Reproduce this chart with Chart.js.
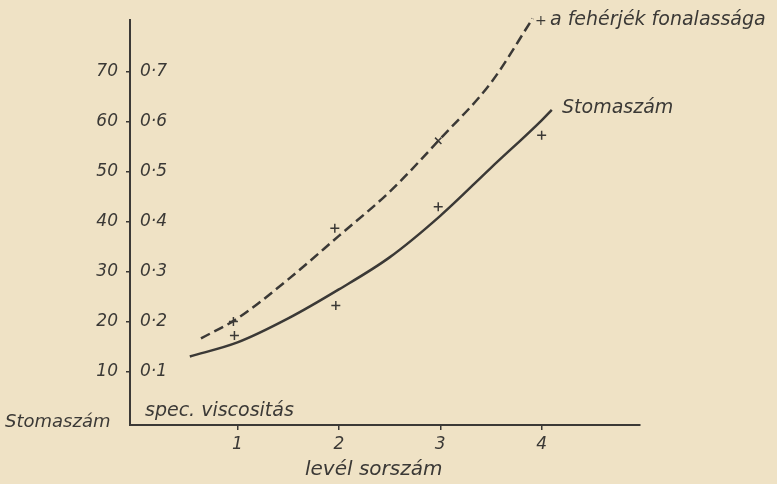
<!DOCTYPE html>
<html>
<head>
<meta charset="utf-8">
<script src="https://cdn.jsdelivr.net/npm/chart.js@4/dist/chart.umd.min.js"></script>
<style>
  html, body { margin: 0; padding: 0; background: #efe2c5; }
  #wrap { width: 777px; height: 484px; position: relative; }
</style>
</head>
<body>
<div id="wrap"><canvas id="chart"></canvas></div>
<script>
// Données
const xTicks = [1, 2, 3, 4];
const yTicks = [10, 20, 30, 40, 50, 60, 70];
const yLabels = ['10', '20', '30', '40', '50', '60', '70'];
const y2Labels = ['0·1', '0·2', '0·3', '0·4', '0·5', '0·6', '0·7'];

// courbe pleine : Stomaszám
const stomaX = [0.53, 1, 1.5, 2, 2.5, 3, 3.5, 4, 4.1];
const stomaY = [13.1, 15.9, 20.7, 26.5, 32.9, 41.2, 50.8, 60.3, 62.4];
// courbe en tirets : spec. viscositás
const viscX = [0.64, 1, 1.5, 2, 2.5, 3, 3.5, 3.91];
const viscY = [0.167, 0.207, 0.285, 0.372, 0.46, 0.566, 0.678, 0.806];
// points mesurés (+)
const stomaPtsX = [0.97, 1.97, 2.98, 4.0];
const stomaPtsY = [17.3, 23.3, 43.0, 57.3];
const viscPtsX = [0.96, 1.96, 2.98];
const viscPtsY = [0.201, 0.387, 0.562];

const ink = '#3b3936';
const font = '"DejaVu Sans", sans-serif';

const zip = (xs, ys) => xs.map((x, i) => ({ x: x, y: ys[i] }));

// Textes libres posés sur le papier
const labelsPlugin = {
  id: 'paperLabels',
  afterDraw(chart) {
    const ctx = chart.ctx;
    ctx.save();
    ctx.fillStyle = ink;
    ctx.textBaseline = 'alphabetic';
    ctx.textAlign = 'left';
    const put = (txt, x, y, size) => {
      ctx.font = 'italic ' + size + 'px ' + font;
      ctx.fillText(txt, x, y);
    };
    put('Stomaszám', 5, 427, 18);
    put('spec. viscositás', 145, 416, 19);
    put('levél sorszám', 305, 475, 20);
    put('Stomaszám', 562, 113, 19);
    put('+', 535, 25, 14);
    put('a fehérjék fonalassága', 550, 25, 19);
    ctx.restore();
  }
};

new Chart(document.getElementById('chart'), {
  type: 'line',
  data: {
    datasets: [
      {
        data: zip(stomaX, stomaY),
        yAxisID: 'y',
        borderColor: ink,
        borderWidth: 2.5,
        pointRadius: 0,
        cubicInterpolationMode: 'monotone',
        fill: false
      },
      {
        data: zip(viscX, viscY),
        yAxisID: 'y2',
        borderColor: ink,
        borderWidth: 2.5,
        borderDash: [10, 5],
        pointRadius: 0,
        cubicInterpolationMode: 'monotone',
        fill: false,
        clip: false
      },
      {
        type: 'scatter',
        data: zip(stomaPtsX, stomaPtsY),
        yAxisID: 'y',
        pointStyle: 'cross',
        pointRadius: 4.5,
        borderColor: ink,
        borderWidth: 1.5,
        showLine: false
      },
      {
        type: 'scatter',
        data: zip(viscPtsX, viscPtsY),
        yAxisID: 'y2',
        pointStyle: ['cross', 'cross', 'crossRot'],
        pointRadius: 4.5,
        borderColor: ink,
        borderWidth: 1.5,
        showLine: false
      }
    ]
  },
  options: {
    responsive: true,
    maintainAspectRatio: false,
    animation: false,
    layout: { padding: { left: 0, right: 137, top: 16, bottom: 0 } },
    plugins: { legend: { display: false }, tooltip: { enabled: false } },
    scales: {
      x: {
        type: 'linear',
        min: -0.06,
        max: 4.97,
        afterBuildTicks: s => { s.ticks = xTicks.map(v => ({ value: v })); },
        afterFit: s => { s.height = 59; },
        grid: { drawOnChartArea: false, tickLength: 5, color: ink, lineWidth: 1.5 },
        border: { color: ink, width: 2 },
        ticks: { color: ink, padding: 4, font: { family: font, size: 17, style: 'italic' } }
      },
      y: {
        position: 'left',
        weight: 2,
        min: -0.6,
        max: 80.3,
        afterBuildTicks: s => { s.ticks = yTicks.map(v => ({ value: v })); },
        afterFit: s => { s.width = 130; },
        grid: { drawOnChartArea: false, tickLength: 4, color: ink, lineWidth: 1.5 },
        border: { color: ink, width: 2 },
        ticks: {
          color: ink,
          padding: 8,
          font: { family: font, size: 17, style: 'italic' },
          callback: v => yLabels[yTicks.indexOf(v)]
        }
      },
      y2: {
        position: 'left',
        weight: 0,
        min: -0.006,
        max: 0.803,
        afterBuildTicks: s => { s.ticks = yTicks.map(v => ({ value: v / 100 })); },
        afterFit: s => { s.width = 0; },
        grid: { display: false },
        border: { display: false },
        ticks: {
          mirror: true,
          color: ink,
          padding: 10,
          font: { family: font, size: 17, style: 'italic' },
          callback: v => y2Labels[yTicks.indexOf(Math.round(v * 100))]
        }
      }
    }
  },
  plugins: [labelsPlugin]
});
</script>
</body>
</html>
